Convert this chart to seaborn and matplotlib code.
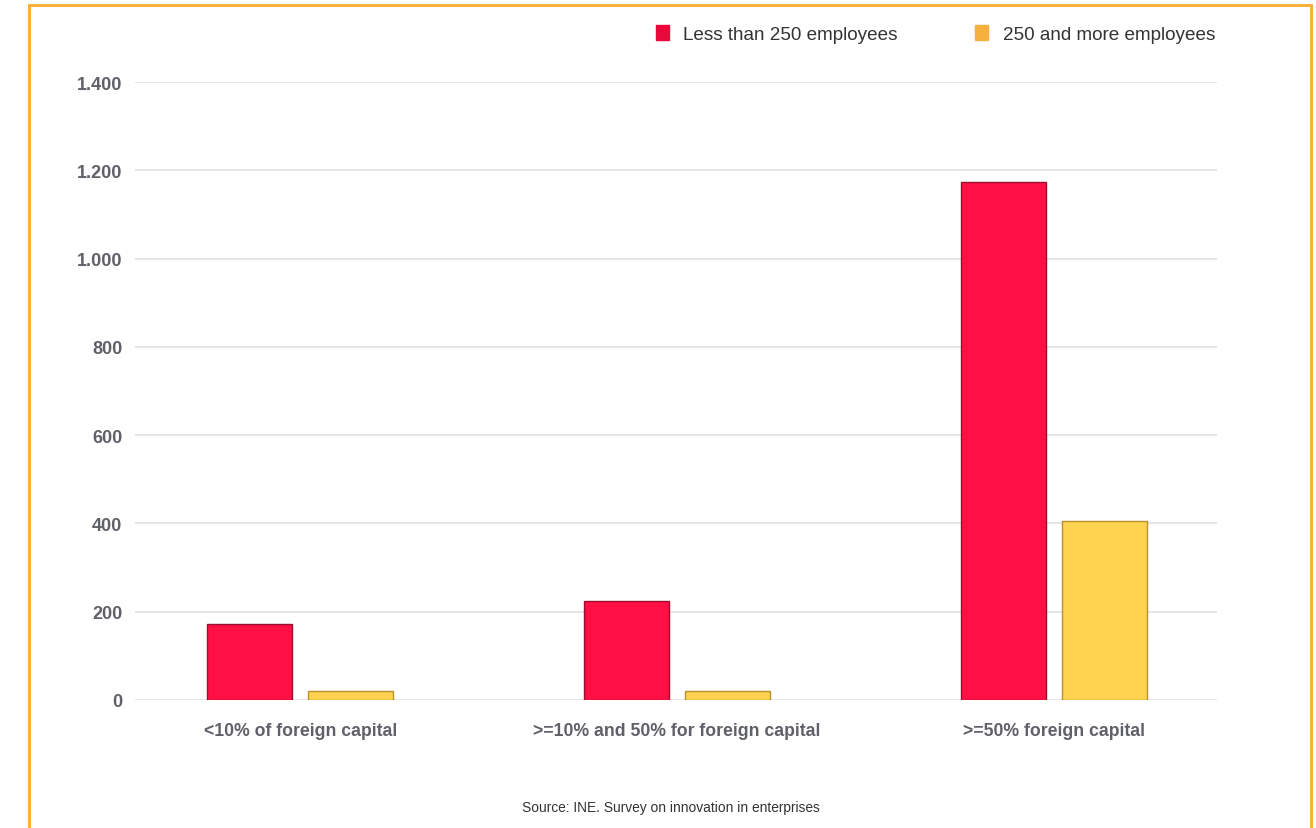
import matplotlib
matplotlib.use("Agg")
import matplotlib.pyplot as plt
import matplotlib.patches as mpatches
import seaborn as sns
import pandas as pd

categories = ["<10% of foreign capital", ">=10% and 50% for foreign capital", ">=50% foreign capital"]
series_names = ["Less than 250 employees", "250 and more employees"]
less_250 = [172, 224, 1173]
more_250 = [20, 20, 405]
y_ticks = [0, 200, 400, 600, 800, 1000, 1200, 1400]
y_tick_labels = ["0", "200", "400", "600", "800", "1.000", "1.200", "1.400"]
source_text = "Source: INE. Survey on innovation in enterprises"

RED = "#FF0F43"
YELLOW = "#FFD350"
LEG_RED = "#E8093A"
LEG_YELLOW = "#F4B13F"

df = pd.DataFrame({
    "category": categories * 2,
    "value": less_250 + more_250,
    "group": [series_names[0]] * 3 + [series_names[1]] * 3,
})

sns.set_theme(style="white")
plt.rcParams["font.family"] = ["Liberation Sans", "DejaVu Sans"]

W, H = 1316, 829
fig = plt.figure(figsize=(W / 100, H / 100), dpi=100)
ax = fig.add_axes([135 / W, 128 / H, 1082 / W, 618 / H])

sns.barplot(data=df, x="category", y="value", hue="group", order=categories,
            hue_order=series_names, palette=[RED, YELLOW], saturation=1,
            width=0.533, gap=0.155, ax=ax, legend=False, edgecolor="none", linewidth=0)

for i, bar in enumerate(ax.patches):
    bar.set_edgecolor("#9a1030" if i < 3 else "#b8902e")
    bar.set_linewidth(1.0)

ax.set_xlim(-0.438, 2.432)
ax.set_ylim(0, 1400)
ax.set_yticks(y_ticks)
ax.set_yticklabels(y_tick_labels)
ax.set_xlabel("")
ax.set_ylabel("")
ax.grid(axis="y", color="#E2E2E2", linewidth=1.2)
ax.grid(axis="x", visible=False)
ax.set_axisbelow(True)
for s in ax.spines.values():
    s.set_visible(False)
ax.tick_params(axis="y", length=0, pad=9, labelsize=13, labelcolor="#5f6068")
ax.tick_params(axis="x", length=0, pad=16, labelsize=12.7, labelcolor="#5f6068")
for lbl in ax.get_yticklabels() + ax.get_xticklabels():
    lbl.set_fontweight("bold")

handles = [mpatches.Patch(color=LEG_RED, label=series_names[0]),
           mpatches.Patch(color=LEG_YELLOW, label=series_names[1])]
fig.legend(handles=handles, loc="center right", bbox_to_anchor=(1232 / W, 1 - 35 / H),
           ncol=2, frameon=False, fontsize=13.6, handlelength=0.7, handleheight=0.8,
           handletextpad=0.75, columnspacing=4.1, labelcolor="#333333")

fig.text(671 / W, 1 - 808 / H, source_text, ha="center", va="center",
         fontsize=9.9, color="#333333")

frame = mpatches.Rectangle((29 / W, -0.05), (1311 - 29) / W, 1.05 - 6 / H,
                           transform=fig.transFigure, fill=False,
                           edgecolor="#F7B23B", linewidth=2.2, clip_on=False)
fig.patches.append(frame)

fig.savefig("out.png", dpi=100)
